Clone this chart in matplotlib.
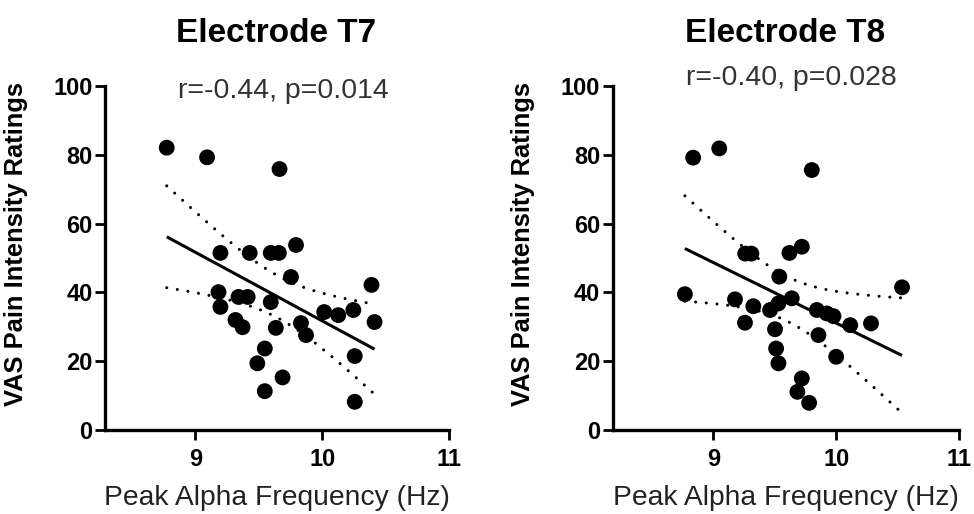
import numpy as np
import matplotlib
matplotlib.use("Agg")
import matplotlib.pyplot as plt

plt.rcParams["font.family"] = ["Liberation Sans", "DejaVu Sans"]

# Electrode T7: peak alpha frequency (Hz) vs VAS pain rating
t7_paf = [8.775, 9.093, 9.664, 9.198, 9.429, 9.595, 9.659, 9.794, 9.754, 9.183,
          9.198, 9.341, 9.413, 9.595, 9.317, 9.373, 9.635, 9.833, 9.873, 10.016,
          10.127, 10.246, 10.389, 10.413, 9.548, 9.489, 10.257, 9.688, 9.548, 10.257]
t7_vas = [82.1, 79.3, 75.9, 51.5, 51.5, 51.5, 51.5, 53.8, 44.5, 40.1,
          35.8, 38.7, 38.7, 37.2, 32.0, 29.9, 29.7, 31.1, 27.6, 34.3,
          33.4, 34.9, 42.2, 31.4, 23.7, 19.4, 21.5, 15.3, 11.3, 8.2]

# Electrode T8
t8_paf = [8.837, 9.049, 9.801, 8.770, 9.177, 9.326, 9.258, 9.26, 9.31, 9.619,
          9.72, 9.537, 9.462, 9.529, 9.638, 9.502, 9.842, 9.923, 9.977, 10.113,
          9.855, 9.511, 9.530, 9.720, 9.684, 9.779, 9.999, 10.282, 10.534]
t8_vas = [79.2, 81.9, 75.6, 39.5, 38.0, 36.0, 31.2, 51.3, 51.3, 51.5,
          53.3, 44.6, 34.9, 36.8, 38.3, 29.3, 34.9, 33.9, 33.1, 30.5,
          27.6, 23.7, 19.4, 15.0, 11.1, 7.9, 21.3, 31.0, 41.5]

titles = ["Electrode T7", "Electrode T8"]
stats = ["r=-0.44, p=0.014", "r=-0.40, p=0.028"]
x_ticks = [9, 10, 11]
y_ticks = [0, 20, 40, 60, 80, 100]

T_CRIT = 2.048  # two-sided 95%, df ~ 28


def fit_band(x, y):
    x = np.asarray(x)
    y = np.asarray(y)
    n = len(x)
    slope, icpt = np.polyfit(x, y, 1)
    xg = np.linspace(x.min(), x.max(), 100)
    yg = slope * xg + icpt
    resid = y - (slope * x + icpt)
    s = np.sqrt(np.sum(resid ** 2) / (n - 2))
    sxx = np.sum((x - x.mean()) ** 2)
    se = s * np.sqrt(1.0 / n + (xg - x.mean()) ** 2 / sxx)
    return xg, yg, yg - T_CRIT * se, yg + T_CRIT * se


fig = plt.figure(figsize=(9.74, 5.14), dpi=100)
ax1 = fig.add_axes([0.108, 0.1634, 0.353, 0.669])
ax2 = fig.add_axes([0.629, 0.1634, 0.356, 0.669])

panels = [
    (ax1, t7_paf, t7_vas, 8.29, 0.810, -0.224),
    (ax2, t8_paf, t8_vas, 8.183, 0.835, -0.225),
]

for i, (ax, xs, ys, xmin, stat_y, ylab_x) in enumerate(panels):
    xg, yg, lo, hi = fit_band(xs, ys)
    for band in (hi, lo):
        ax.plot(xg, band, color="black", lw=2.2, ls=(0, (0.01, 3.5)),
                dash_capstyle="round")
    ax.plot(xg, yg, color="black", lw=2.2, solid_capstyle="butt")
    ax.scatter(xs, ys, s=130, color="black", edgecolors="none", zorder=3)

    ax.set_xlim(xmin, 11)
    ax.set_ylim(0, 100)
    ax.set_xticks(x_ticks)
    ax.set_yticks(y_ticks)
    for sp in ["top", "right"]:
        ax.spines[sp].set_visible(False)
    for sp in ["left", "bottom"]:
        ax.spines[sp].set_linewidth(2.4)
    ax.tick_params(direction="out", length=7, width=2, labelsize=17)
    ax.tick_params(axis="y", pad=2)
    ax.tick_params(axis="x", pad=6)
    for lab in ax.get_xticklabels() + ax.get_yticklabels():
        lab.set_fontweight("bold")

    ax.set_ylabel("VAS Pain Intensity Ratings", fontsize=18.4, fontweight="bold")
    ax.yaxis.set_label_coords(ylab_x, 0.542)
    ax.set_xlabel("Peak Alpha Frequency (Hz)", fontsize=20.3, color="#222222")
    ax.xaxis.set_label_coords(0.5, -0.198)
    ax.xaxis.label.set_va("center")

    bb = ax.get_position()
    cx = bb.x0 + bb.width * 0.5
    fig.text(cx - 0.001, 0.918, titles[i], fontsize=24, fontweight="bold",
             ha="center", va="baseline")
    fig.text(cx + 0.006, stat_y, stats[i], fontsize=20.5, color="#333333",
             ha="center", va="baseline")

fig.savefig("out.png", dpi=100)
